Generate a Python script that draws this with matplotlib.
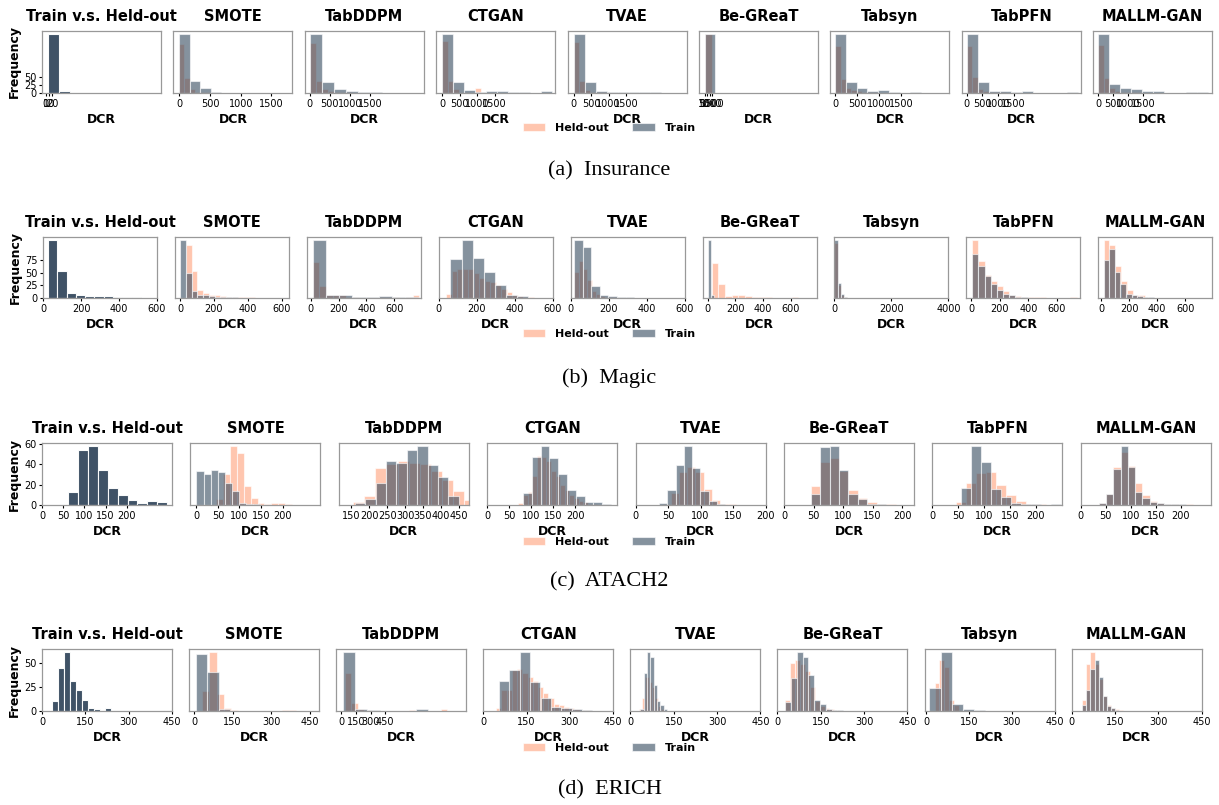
import matplotlib.pyplot as plt
import numpy as np

# ---------------- data (DCR histograms) ----------------
# each series: bin start, bin width, counts per bin
# unlabeled panels use an arbitrary frequency scale (no y ticks shown)

# (a) Insurance
INS_TITLES = ["SMOTE", "TabDDPM", "CTGAN", "TVAE", "Be-GReaT", "Tabsyn", "TabPFN", "MALLM-GAN"]
INS_REF_LO, INS_REF_W = 7, 33
INS_REF_N = [188, 6, 0, 0, 0, 0, 0, 0, 0, 0]
INS_REF_XLIM = (-12, 351)
INS_REF_XTICKS = [0, 10, 20]
INS_YTICKS = [0, 25, 50]
INS_TRAIN_LO = [0, 0, 0, 0, 0, 0, 0, 0]
INS_TRAIN_W = [170, 300, 314, 314, 2100, 243, 355, 367]
INS_TRAIN_N = [
    [100, 20, 9, 1, 0.5, 0.3, 0.3, 0.2, 0.2, 0.3],
    [100, 19, 6, 3, 2, 1, 0.5, 0.3, 0.3, 0.3],
    [100, 18, 5, 2, 4, 3, 1, 1, 0.5, 3],
    [100, 18, 3, 2, 1, 1, 1, 1, 0.3, 0.3],
    [100, 0, 0, 0, 0, 0, 0, 0, 0, 0.2],
    [100, 19, 8, 4, 5, 2, 0, 2, 0.5, 0.5],
    [100, 19, 4, 3, 1, 3, 0, 0, 0, 1.5],
    [100, 16, 9, 6, 4, 3, 0, 0, 2, 2],
]
INS_HELD_LO = [0, 0, 0, 0, 0, 0, 0, 0]
INS_HELD_W = [85, 150, 157, 157, 1500, 121, 178, 183]
INS_HELD_N = [
    [83, 26, 7, 2, 1, 1, 0.7, 0.5, 0.5, 0.5],
    [84, 20, 7, 3, 2, 1, 1, 0.5, 0.5, 0.5],
    [88, 20, 7, 2, 1, 0, 8, 0.5, 0.5, 0.5],
    [87, 21, 5, 2, 1, 1, 0.5, 0.5, 0.3, 0.3],
    [100],
    [80, 23, 9, 5, 3, 2, 1, 1, 0.5, 0.5],
    [80, 27, 7, 3, 2, 1, 1, 0.5, 0.5, 0.5],
    [81, 25, 8, 4, 2, 2, 1, 1, 0.5, 0.5],
]
INS_XLIMS = [(-95, 1840), (-125, 2850), (-170, 3230), (-170, 3230),
             (-1300, 24000), (-114, 2590), (-160, 3650), (-167, 3800)]
INS_XTICKS = [[0, 500, 1000, 1500]] * 8

# (b) Magic
MAG_TITLES = ["SMOTE", "TabDDPM", "CTGAN", "TVAE", "Be-GReaT", "Tabsyn", "TabPFN", "MALLM-GAN"]
MAG_REF_LO, MAG_REF_W = 26, 49
MAG_REF_N = [114, 53, 10, 6.5, 4, 3, 3, 2.5, 2, 2]
MAG_REF_XLIM = (0, 600)
MAG_REF_XTICKS = [0, 200, 400, 600]
MAG_YTICKS = [0, 25, 50, 75]
MAG_TRAIN_LO = [0, 14, 62, 19, 0, 0, 7, 17]
MAG_TRAIN_W = [34, 95, 58, 45, 24, 110, 43, 40]
MAG_TRAIN_N = [
    [175, 75, 20, 10, 8, 6, 4, 3, 2, 2],
    [174, 10, 8, 4, 2, 6, 2, 3],
    [118, 175, 121, 78, 40, 10, 5],
    [175, 153, 35, 10, 5, 3, 2, 1, 1, 1],
    [175, 10],
    [175, 46, 13, 4, 1],
    [133, 96, 66, 41, 25, 12, 8, 4, 2, 1],
    [115, 148, 78, 41, 13, 10, 6, 3, 2, 1],
]
MAG_HELD_LO = [34, 14, 40, 19, 29, 0, 7, 17]
MAG_HELD_W = [34, 48, 29, 23, 48, 110, 43, 42]
MAG_HELD_N = [
    [160, 81, 23, 15, 10, 8, 6, 4, 3, 2, 2, 2, 1, 1, 1, 1, 1],
    [108, 35, 10, 8, 8, 3, 2, 1, 1, 1, 2, 3, 2, 1, 2, 10],
    [13, 80, 88, 88, 88, 75, 60, 52, 48, 40, 28, 18, 10, 6, 4, 2],
    [78, 110, 88, 53, 20, 12, 6, 4, 2, 2, 1, 1],
    [105, 41, 5, 10, 8, 5, 3, 3, 2, 1, 1, 1, 3],
    [165, 40, 10, 3, 1],
    [175, 110, 70, 50, 35, 20, 10, 6, 4, 3, 3, 2, 1, 1, 1, 1, 2],
    [175, 160, 96, 50, 23, 10, 10],
]
MAG_XLIMS = [(-30, 642), (-29, 792), (0, 600), (0, 600),
             (-36, 784), (0, 4000), (-35, 764), (-21, 793)]
MAG_XTICKS = [[0, 200, 400, 600]] * 5 + [[0, 2000, 4000]] + [[0, 200, 400, 600]] * 2

# (c) ATACH2
ATA_TITLES = ["SMOTE", "TabDDPM", "CTGAN", "TVAE", "Be-GReaT", "TabPFN", "MALLM-GAN"]
ATA_REF_LO, ATA_REF_W = 61, 23.5
ATA_REF_N = [13, 54, 58, 34, 17, 10, 5, 2, 4, 3]
ATA_REF_XLIM = (0, 307)
ATA_REF_XTICKS = [0, 50, 100, 150, 200]
ATA_YTICKS = [0, 20, 40, 60]
ATA_TRAIN_LO = [0, 160, 81, 36, 45, 56, 36]
ATA_TRAIN_W = [16.5, 29, 20, 12.7, 16, 19.4, 14.5]
ATA_TRAIN_N = [
    [103, 92, 105, 100, 67, 42, 5, 3, 2, 1],
    [3, 10, 35, 70, 68, 88, 95, 65, 45, 15],
    [35, 140, 173, 137, 90, 45, 25, 10, 8, 3],
    [5, 45, 120, 177, 110, 42, 12, 3],
    [33, 172, 175, 103, 33, 17, 3, 2, 1, 1],
    [52, 177, 130, 48, 25, 5, 3, 2, 1, 3],
    [5, 32, 108, 177, 115, 40, 20, 8, 5, 3, 2, 4],
]
ATA_HELD_LO = [46, 155, 71, 42, 45, 46, 36]
ATA_HELD_W = [16, 31, 10.5, 12.5, 16, 19.4, 14.5]
ATA_HELD_N = [
    [17, 92, 177, 155, 58, 22, 5, 3, 5, 5, 2, 0, 0, 0, 0, 0, 3],
    [5, 15, 60, 66, 70, 68, 66, 55, 40, 22, 8],
    [5, 30, 38, 85, 145, 140, 130, 100, 85, 60, 45, 30, 20, 12, 8, 4, 2],
    [3, 35, 100, 115, 100, 48, 15, 4, 2],
    [55, 127, 140, 100, 45, 20, 8, 4, 2],
    [8, 65, 95, 100, 60, 30, 12, 4, 2, 1],
    [5, 32, 115, 160, 118, 65, 30, 12, 6, 3, 2, 1, 2],
]
ATA_XLIMS = [(-14, 288), (115, 478), (0, 295), (0, 200), (0, 220), (0, 252), (0, 260)]
ATA_XTICKS = [[0, 50, 100, 150, 200], [150, 200, 250, 300, 350, 400, 450],
              [0, 50, 100, 150, 200], [0, 50, 100, 150, 200], [0, 50, 100, 150, 200],
              [0, 50, 100, 150, 200], [0, 50, 100, 150, 200]]

# (d) ERICH
ERI_TITLES = ["SMOTE", "TabDDPM", "CTGAN", "TVAE", "Be-GReaT", "Tabsyn", "MALLM-GAN"]
ERI_REF_LO, ERI_REF_W = 36, 20.4
ERI_REF_N = [11, 45, 62, 32, 22.5, 12, 3, 2.5, 0, 3]
ERI_REF_XLIM = (0, 450)
ERI_REF_XTICKS = [0, 150, 300, 450]
ERI_YTICKS = [0, 25, 50]
ERI_TRAIN_LO = [6.5, 20, 54, 34, 27, 12, 37]
ERI_TRAIN_W = [45, 124, 36, 11.6, 20, 39, 14]
ERI_TRAIN_N = [
    [169, 117, 7, 0, 0, 0, 0, 1],
    [175, 7, 2, 1, 0, 0, 7, 0, 0, 0],
    [90, 122, 175, 87, 40, 12, 10, 5, 4],
    [7, 112, 175, 160, 77, 30, 17, 7],
    [27, 97, 175, 160, 107, 32, 20, 7, 3, 4],
    [67, 175, 22, 7, 2],
    [19, 62, 124, 152, 102, 44, 14, 10, 4],
]
ERI_HELD_LO = [32, 40, 45, 30, 27, 30, 37]
ERI_HELD_W = [28, 65, 18, 11, 17, 17, 14]
ERI_HELD_N = [
    [60, 175, 50, 8, 4, 0, 0, 0, 0, 0, 0, 1.5, 1.5],
    [112, 25, 7, 3, 1, 0, 0, 0, 0, 0, 2, 0, 0, 0, 0, 7],
    [10, 62, 62, 122, 124, 112, 100, 90, 70, 52, 40, 20, 18, 12, 8, 5, 3, 2],
    [5, 40, 100, 85, 70, 40, 15, 5],
    [32, 142, 150, 140, 120, 70, 30, 15, 8, 5, 3],
    [84, 150, 130, 34, 17, 4, 2],
    [32, 139, 175, 140, 95, 45, 18, 10, 6, 3],
]
ERI_XLIMS = [(-19, 485), (-51, 1276), (0, 450), (0, 450), (0, 450), (-5, 450), (0, 450)]
ERI_XTICKS = [[0, 150, 300, 450]] * 7

CAPTIONS = ["(a)  Insurance", "(b)  Magic", "(c)  ATACH2", "(d)  ERICH"]

# ---------------- style / layout ----------------
W_PX, H_PX = 1219, 805
TRAIN_COLOR = "#34495e"
HELD_COLOR = "#ffa07a"
SPINE_COLOR = "#999999"

# per row: first axes left, step between axes, axes width, axes top, axes bottom,
# legend centre y, caption centre y (pixels)
ROW_LAYOUT = [
    (42, 131.4, 119, 31, 93, 128, 171),
    (43, 131.9, 114, 237, 298, 334, 378),
    (42, 148.4, 130, 443, 505, 542, 582),
    (42, 147.1, 130, 649, 711, 748, 790),
]


def add_px_axes(fig, left, top, width, bottom):
    return fig.add_axes([left / W_PX, 1 - bottom / H_PX, width / W_PX, (bottom - top) / H_PX])


def draw_hist(ax, lo, width, counts, color, alpha):
    counts = np.asarray(counts, dtype=float)
    starts = lo + width * np.arange(len(counts))
    ax.bar(starts, counts, width=width, align="edge", color=color, alpha=alpha,
           edgecolor="white", linewidth=0.8)


def style_axes(ax, title, xlim, xticks):
    ax.set_title(title, fontsize=10.5, fontweight="bold", pad=7)
    ax.set_xlim(*xlim)
    ax.set_xticks(xticks)
    ax.set_xlabel("DCR", fontsize=9, fontweight="bold", labelpad=3)
    ax.tick_params(axis="both", labelsize=7, length=2.5, width=0.8, pad=1.5)
    for spine in ax.spines.values():
        spine.set_color(SPINE_COLOR)
        spine.set_linewidth(0.9)


def draw_row(fig, layout, caption, titles, ref, train, held, xlims, xticks):
    left, step, width, top, bottom, legend_y, caption_y = layout
    ref_lo, ref_w, ref_n, ref_xlim, ref_xticks, yticks = ref

    ax = add_px_axes(fig, left, top, width, bottom)
    draw_hist(ax, ref_lo, ref_w, ref_n, TRAIN_COLOR, 0.95)
    style_axes(ax, "Train v.s. Held-out", ref_xlim, ref_xticks)
    ax.set_yticks(yticks)
    ax.set_ylabel("Frequency", fontsize=9, fontweight="bold", labelpad=2)

    handles = None
    for i, title in enumerate(titles):
        ax = add_px_axes(fig, left + step * (i + 1), top, width, bottom)
        draw_hist(ax, held[0][i], held[1][i], held[2][i], HELD_COLOR, 0.6)
        draw_hist(ax, train[0][i], train[1][i], train[2][i], TRAIN_COLOR, 0.6)
        style_axes(ax, title, xlims[i], xticks[i])
        ax.set_yticks([])
        handles = ax.containers

    fig.legend(handles, ["Held-out", "Train"], loc="center",
               bbox_to_anchor=(0.5, 1 - legend_y / H_PX), ncol=2, frameon=False,
               prop={"weight": "bold", "size": 8}, handlelength=2.0,
               handleheight=0.7, handletextpad=0.9, columnspacing=2.1)
    fig.text(0.5, 1 - caption_y / H_PX, caption, ha="center", va="center",
             fontsize=16, family="Liberation Serif")


def main() -> None:
    fig = plt.figure(figsize=(W_PX / 100, H_PX / 100), dpi=100)

    draw_row(fig, ROW_LAYOUT[0], CAPTIONS[0], INS_TITLES,
             (INS_REF_LO, INS_REF_W, INS_REF_N, INS_REF_XLIM, INS_REF_XTICKS, INS_YTICKS),
             (INS_TRAIN_LO, INS_TRAIN_W, INS_TRAIN_N),
             (INS_HELD_LO, INS_HELD_W, INS_HELD_N), INS_XLIMS, INS_XTICKS)
    draw_row(fig, ROW_LAYOUT[1], CAPTIONS[1], MAG_TITLES,
             (MAG_REF_LO, MAG_REF_W, MAG_REF_N, MAG_REF_XLIM, MAG_REF_XTICKS, MAG_YTICKS),
             (MAG_TRAIN_LO, MAG_TRAIN_W, MAG_TRAIN_N),
             (MAG_HELD_LO, MAG_HELD_W, MAG_HELD_N), MAG_XLIMS, MAG_XTICKS)
    draw_row(fig, ROW_LAYOUT[2], CAPTIONS[2], ATA_TITLES,
             (ATA_REF_LO, ATA_REF_W, ATA_REF_N, ATA_REF_XLIM, ATA_REF_XTICKS, ATA_YTICKS),
             (ATA_TRAIN_LO, ATA_TRAIN_W, ATA_TRAIN_N),
             (ATA_HELD_LO, ATA_HELD_W, ATA_HELD_N), ATA_XLIMS, ATA_XTICKS)
    draw_row(fig, ROW_LAYOUT[3], CAPTIONS[3], ERI_TITLES,
             (ERI_REF_LO, ERI_REF_W, ERI_REF_N, ERI_REF_XLIM, ERI_REF_XTICKS, ERI_YTICKS),
             (ERI_TRAIN_LO, ERI_TRAIN_W, ERI_TRAIN_N),
             (ERI_HELD_LO, ERI_HELD_W, ERI_HELD_N), ERI_XLIMS, ERI_XTICKS)

    fig.savefig("out.png", dpi=100)
    plt.close(fig)


if __name__ == "__main__":
    main()
